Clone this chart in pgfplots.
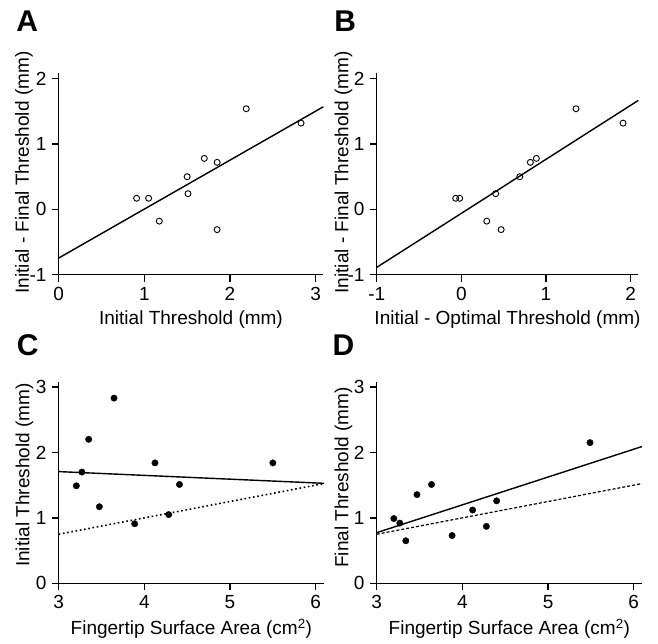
\documentclass[border=0pt]{standalone}
\usepackage{fontspec}
\setmainfont{Liberation Sans}
\usepackage{pgfplots}
\pgfplotsset{compat=1.18}
\newcommand{\lblfont}{\fontsize{19}{22}\selectfont}
\newcommand{\panelfont}{\fontsize{30}{34}\selectfont\bfseries}
\pgfplotsset{
  panel/.style={
    scale only axis,
    axis lines=left,
    axis line style={-, line width=1.3pt, black},
    tick align=outside,
    major tick length=7pt,
    every tick/.style={black, line width=1.3pt},
    /pgf/number format/assume math mode=true,
    tick label style={font=\lblfont},
    label style={font=\lblfont},
    xticklabel style={anchor=base, inner sep=0pt, yshift=-18.5pt},
    yticklabel style={anchor=east, inner sep=0pt, xshift=-5pt},
    clip=false,
  },
  opencirc/.style={only marks, mark=o, mark size=3pt, mark options={line width=0.9pt, fill=white, draw=black}},
  fillcirc/.style={only marks, mark=*, mark size=3.2pt, mark options={line width=0.4pt, fill=black, draw=black}},
  fitline/.style={black, line width=1.4pt, no marks},
}
\begin{document}
\begin{tikzpicture}
\useasboundingbox (0,0) rectangle (658pt,-643pt);

% ---------- Panel A ----------
\begin{axis}[panel,
  at={(58.7pt,-274.7pt)}, anchor=south west,
  width=264.6pt, height=202pt,
  xmin=0, xmax=3.09, ymin=-1, ymax=2.092,
  xtick={0,1,2,3}, ytick={-1,0,1,2},
  xlabel={Initial Threshold (mm)},
  ylabel={Initial - Final Threshold (mm)},
  xlabel style={at={(axis description cs:0.5,0)}, anchor=base, yshift=-49.3pt},
  ylabel style={at={(axis description cs:-0.1123,0.506)}, anchor=base},
]
\addplot[fitline] coordinates {(0,-0.745) (3.09,1.57)};
\addplot[opencirc] coordinates {
(0.91,0.17) (1.05,0.17) (1.175,-0.18) (1.50,0.50) (1.51,0.24)
(1.70,0.78) (1.85,0.72) (1.85,-0.31) (2.19,1.54) (2.83,1.32)};
\node[anchor=base west, font=\panelfont, inner sep=0pt] at (axis description cs:-0.161,1.203) {A};
\end{axis}

% ---------- Panel B ----------
\begin{axis}[panel,
  at={(376.7pt,-274.7pt)}, anchor=south west,
  width=261.6pt, height=202pt,
  xmin=-1, xmax=2.09, ymin=-1, ymax=2.092,
  xtick={-1,0,1,2}, ytick={-1,0,1,2},
  xlabel={Initial - Optimal Threshold (mm)},
  ylabel={Initial - Final Threshold (mm)},
  xlabel style={at={(axis description cs:0.5,0)}, anchor=base, yshift=-49.3pt},
  ylabel style={at={(axis description cs:-0.1086,0.506)}, anchor=base},
]
\addplot[fitline] coordinates {(-1,-0.888) (2.09,1.668)};
\addplot[opencirc] coordinates {
(-0.067,0.17) (-0.02,0.17) (0.30,-0.18) (0.405,0.24) (0.47,-0.31)
(0.69,0.50) (0.815,0.72) (0.886,0.78) (1.354,1.54) (1.91,1.32)};
\node[anchor=base west, font=\panelfont, inner sep=0pt] at (axis description cs:-0.163,1.203) {B};
\end{axis}

% ---------- Panel C ----------
\begin{axis}[panel,
  at={(58.7pt,-583.3pt)}, anchor=south west,
  width=265.3pt, height=201.3pt,
  xmin=3, xmax=6.097, ymin=0, ymax=3.076,
  xtick={3,4,5,6}, ytick={0,1,2,3},
  xlabel={Fingertip Surface Area (cm\textsuperscript{2})},
  ylabel={Initial Threshold (mm)},
  xlabel style={at={(axis description cs:0.5,0)}, anchor=base, yshift=-51pt},
  ylabel style={at={(axis description cs:-0.111,0.538)}, anchor=base},
]
\addplot[fitline] coordinates {(3,1.707) (6.097,1.528)};
\addplot[black, line width=1.6pt, dash pattern=on 1.6pt off 2.7pt, no marks] coordinates {(3,0.75) (6.097,1.524)};
\addplot[fillcirc] coordinates {
(3.206,1.49) (3.27,1.70) (3.35,2.20) (3.475,1.17) (3.646,2.83)
(3.887,0.91) (4.124,1.84) (4.284,1.05) (4.41,1.51) (5.50,1.84)};
\node[anchor=base west, font=\panelfont, inner sep=0pt] at (axis description cs:-0.158,1.134) {C};
\end{axis}

% ---------- Panel D ----------
\begin{axis}[panel,
  at={(376.7pt,-583.3pt)}, anchor=south west,
  width=265.3pt, height=201.3pt,
  xmin=3, xmax=6.097, ymin=0, ymax=3.076,
  xtick={3,4,5,6}, ytick={0,1,2,3},
  xlabel={Fingertip Surface Area (cm\textsuperscript{2})},
  ylabel={Final Threshold (mm)},
  xlabel style={at={(axis description cs:0.5,0)}, anchor=base, yshift=-51pt},
  ylabel style={at={(axis description cs:-0.107,0.526)}, anchor=base},
]
\addplot[fitline] coordinates {(3,0.774) (6.097,2.09)};
\addplot[black, line width=1.2pt, dash pattern=on 3pt off 2pt, no marks] coordinates {(3,0.75) (6.097,1.524)};
\addplot[fillcirc] coordinates {
(3.20,0.99) (3.27,0.92) (3.34,0.65) (3.47,1.355) (3.64,1.51)
(3.88,0.73) (4.12,1.12) (4.28,0.87) (4.40,1.26) (5.49,2.15)};
\node[anchor=base west, font=\panelfont, inner sep=0pt] at (axis description cs:-0.167,1.134) {D};
\end{axis}
\end{tikzpicture}
\end{document}
